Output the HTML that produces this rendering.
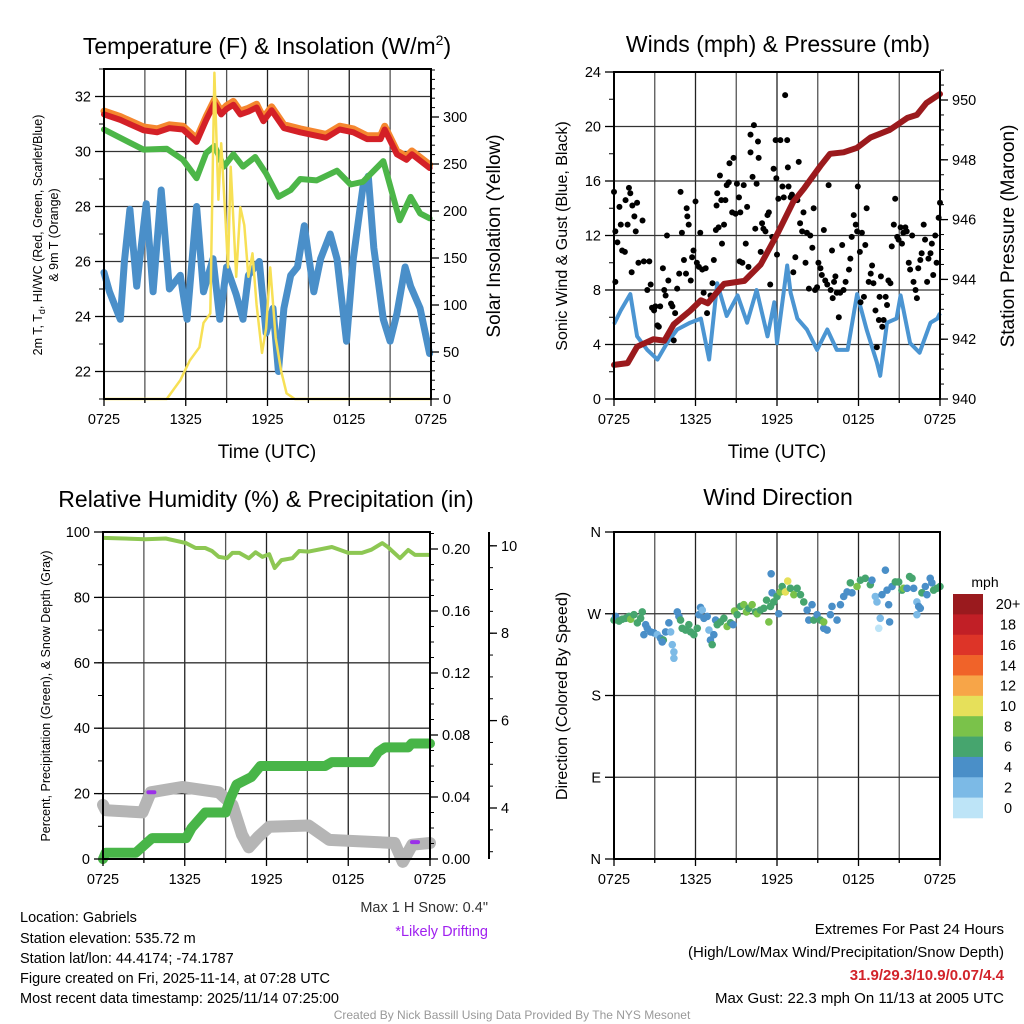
<!DOCTYPE html>
<html><head><meta charset="utf-8"><style>
html,body{margin:0;padding:0;background:#fff;}
svg{display:block;font-family:"Liberation Sans",Arial,sans-serif;}
</style></head><body>
<svg id="c" width="1024" height="1024" viewBox="0 0 1024 1024" xmlns="http://www.w3.org/2000/svg">
<g id="layer"></g>
<g id="texts" fill="#000">
<text x="267" y="54" font-size="23" text-anchor="middle">Temperature (F) &amp; Insolation (W/m<tspan dy="-9" font-size="14">2</tspan><tspan dy="9">)</tspan></text>
<text x="778" y="52" font-size="23" text-anchor="middle">Winds (mph) &amp; Pressure (mb)</text>
<text x="266" y="507" font-size="23" text-anchor="middle">Relative Humidity (%) &amp; Precipitation (in)</text>
<text x="778" y="505" font-size="23" text-anchor="middle">Wind Direction</text>
<text x="267" y="458" font-size="19" text-anchor="middle">Time (UTC)</text>
<text x="777" y="458" font-size="19" text-anchor="middle">Time (UTC)</text>
<g transform="translate(42,235) rotate(-90)" font-size="12.5" text-anchor="middle"><text x="0" y="0">2m T, T<tspan font-size="9" dy="3">d</tspan><tspan dy="-3">, HI/WC (Red, Green, Scarlet/Blue)</tspan></text><text x="0" y="16">&amp; 9m T (Orange)</text></g>
<text transform="translate(500,236) rotate(-90)" font-size="19" text-anchor="middle">Solar Insolation (Yellow)</text>
<text transform="translate(567,236) rotate(-90)" font-size="16" text-anchor="middle">Sonic Wind &amp; Gust (Blue, Black)</text>
<text transform="translate(1014,236) rotate(-90)" font-size="19" text-anchor="middle">Station Pressure (Maroon)</text>
<text transform="translate(50,696) rotate(-90)" font-size="12.5" text-anchor="middle">Percent, Precipitation (Green), &amp; Snow Depth (Gray)</text>
<text transform="translate(567,696) rotate(-90)" font-size="16" text-anchor="middle">Direction (Colored By Speed)</text>
<text x="488" y="912" font-size="14.5" fill="#333" text-anchor="end">Max 1 H Snow: 0.4"</text>
<text x="488" y="936" font-size="14.5" fill="#a020f0" text-anchor="end">*Likely Drifting</text>
<g font-size="14.5">
<text x="20" y="922">Location: Gabriels</text>
<text x="20" y="943">Station elevation: 535.72 m</text>
<text x="20" y="963">Station lat/lon: 44.4174; -74.1787</text>
<text x="20" y="983">Figure created on Fri, 2025-11-14, at 07:28 UTC</text>
<text x="20" y="1003">Most recent data timestamp: 2025/11/14 07:25:00</text>
</g>
<g font-size="15" text-anchor="end">
<text x="1004" y="934">Extremes For Past 24 Hours</text>
<text x="1004" y="957">(High/Low/Max Wind/Precipitation/Snow Depth)</text>
<text x="1004" y="980" fill="#d2232a" font-weight="bold">31.9/29.3/10.9/0.07/4.4</text>
<text x="1004" y="1003">Max Gust: 22.3 mph On 11/13 at 2005 UTC</text>
</g>
<text x="512" y="1019" font-size="12" fill="#999" text-anchor="middle">Created By Nick Bassill Using Data Provided By The NYS Mesonet</text>
<text x="985" y="587" font-size="14" text-anchor="middle">mph</text>
</g>
</svg>
<script>
// ---------- Panel 1 data ----------
const redT=[0,1.2,2.9,3.9,4.8,5.8,6.8,7.5,8.1,8.6,9.0,9.5,10.0,10.6,11.2,11.7,12.3,13.2,14.4,16.3,17.3,18.3,19.3,20.3,20.6,21.5,22.2,22.6,23.9];
const redV=[31.35,31.15,30.77,30.7,30.85,30.8,30.35,31.15,31.75,31.35,31.55,31.7,31.35,31.45,31.6,31.1,31.5,30.85,30.7,30.5,30.8,30.7,30.45,30.45,30.8,29.9,29.7,29.9,29.4];
const grnT=[0,2.9,4.6,5.8,6.8,7.5,8.1,8.8,9.5,10.2,11.1,11.9,12.8,13.7,14.4,15.6,17.1,18.1,19.0,20.5,21.7,22.5,23.2,23.9];
const grnV=[30.8,30.07,30.1,29.7,29.03,29.95,30.2,29.45,29.9,29.45,29.8,29.2,28.35,28.6,29.0,28.95,29.3,28.8,28.9,29.65,27.5,28.35,27.75,27.57];
const bluT=[0,0.4,1.2,1.5,1.9,2.4,3.1,3.6,4.2,4.8,5.6,6.1,6.8,7.3,8.0,8.5,9.0,9.7,10.2,10.6,11.4,11.9,12.4,12.8,13.2,13.7,14.2,14.7,15.4,15.9,16.6,17.1,17.8,18.3,19.0,19.4,19.8,20.5,21.0,21.5,22.1,22.5,23.2,23.9];
const bluV=[25.6,24.9,23.9,26.0,27.9,25.1,28.1,24.9,28.6,25.0,25.5,23.9,28.0,24.9,26.1,23.9,25.8,24.8,23.9,25.5,26.0,23.4,24.3,22.0,24.3,25.5,25.8,27.3,24.9,26.1,27.0,26.1,23.1,26.1,28.7,29.1,26.5,23.9,23.1,24.1,25.8,25.1,24.3,22.65];
const solT=[0,4.6,5.6,6.3,7.0,7.3,7.8,8.1,8.4,8.6,8.9,9.1,9.3,9.7,10.0,10.3,10.6,10.9,11.2,11.6,11.9,12.2,12.6,13.0,13.4,14.0,24];
const solV=[0,0,20,41,55,81,91,347,212,272,195,140,247,130,204,185,130,155,100,49,75,140,65,30,6,0,0];
// ---------- Panel 2 data ----------
const presT=[0,1.0,1.7,2.9,3.7,4.4,5.6,6.4,6.9,8.1,9.6,10.8,12.0,13.2,14.0,15.2,15.9,16.9,17.9,18.9,20.3,21.6,22.3,23.0,24.0];
const presV=[941.14,941.2,941.75,942.0,941.95,942.5,942.95,943.3,943.2,943.85,943.95,944.5,945.5,946.6,947.05,947.8,948.2,948.25,948.4,948.75,949.0,949.4,949.5,949.9,950.2];
const windT=[0,0.5,1.2,1.7,2.45,3.2,3.9,4.65,5.6,6.4,7.0,7.6,8.3,9.1,9.8,10.5,11.3,11.8,12.0,12.75,13.0,13.5,14.2,14.95,15.7,16.4,17.2,17.9,18.6,19.35,19.6,20.1,20.8,21.1,21.8,22.5,23.3,23.8,24.0];
const windV=[5.5,6.5,7.7,4.6,3.6,2.9,4.1,5.1,5.6,5.9,2.9,8.5,6.1,7.6,5.6,8.0,4.6,7.1,4.1,9.8,7.8,5.9,5.1,3.6,5.1,3.6,3.6,7.7,5.1,2.7,1.7,5.6,5.9,7.6,4.1,3.4,5.6,5.9,6.3];
const gustT=[0,0.1,0.1,0.25,0.4,0.5,0.6,0.8,0.85,1.0,1.1,1.2,1.3,1.35,1.5,1.6,1.7,1.8,2.1,2.2,2.45,2.6,2.7,2.8,2.95,3.05,3.2,3.3,3.4,3.6,3.7,3.8,3.9,4.0,4.2,4.3,4.4,4.5,4.65,4.8,4.9,5.0,5.15,5.3,5.35,5.4,5.5,5.65,5.75,5.85,6.0,6.1,6.25,6.35,6.5,6.6,6.75,6.85,7.1,7.25,7.35,7.5,7.55,7.6,7.7,7.8,7.9,7.95,8.1,8.2,8.3,8.45,8.5,8.7,8.8,8.95,9.05,9.2,9.25,9.3,9.45,9.55,9.7,9.8,9.9,10.05,10.05,10.2,10.3,10.4,10.5,10.6,10.65,10.8,10.9,11.0,11.15,11.3,11.4,11.5,11.65,11.75,11.9,11.95,12.0,12.1,12.25,12.4,12.5,12.6,12.75,12.8,12.85,13.0,13.1,13.2,13.35,13.5,13.6,13.7,13.85,13.95,14.1,14.2,14.35,14.45,14.6,14.7,14.8,14.95,15.05,15.2,15.3,15.45,15.55,15.7,15.8,15.95,16.05,16.1,16.2,16.3,16.4,16.55,16.65,16.8,16.9,17.05,17.3,17.4,17.5,17.65,17.8,17.9,17.95,18.1,18.15,18.25,18.4,18.5,18.6,18.75,18.9,19.0,19.1,19.25,19.35,19.5,19.55,19.65,19.75,19.85,20.0,20.1,20.2,20.35,20.45,20.6,20.7,20.85,20.95,21.1,21.2,21.3,21.45,21.55,21.7,21.8,21.95,22.05,22.2,22.3,22.4,22.55,22.65,22.8,22.9,23.05,23.15,23.3,23.4,23.5,23.65,23.75,23.9,24.0];
const gustV=[15.2,12.3,8.6,11.5,14.1,12.8,10.9,10.8,14.6,12.8,15.5,15.1,9.3,14.2,13.4,12.3,14.4,10.0,13.1,10.1,8.0,10.1,8.4,6.7,6.5,6.8,5.4,5.3,6.8,9.6,8.0,7.6,12.0,8.7,7.0,6.8,4.3,6.3,8.1,9.2,15.2,12.2,10.2,9.2,14.0,13.4,12.8,8.7,10.4,10.9,14.5,10.0,9.7,12.2,9.5,7.8,9.6,6.3,7.6,8.5,10.2,12.4,14.2,15.1,12.6,16.4,14.6,11.4,12.8,14.6,15.7,15.9,17.3,13.7,17.7,13.6,15.8,14.8,10.1,13.7,10.0,15.7,11.4,14.1,9.7,19.4,18.1,16.3,20.1,12.5,15.8,18.9,17.7,10.8,12.9,12.5,12.3,13.5,13.7,8.4,11.9,16.9,19.0,16.2,10.6,14.7,19.0,15.6,14.8,22.3,19.0,17.0,15.6,14.8,15.0,9.3,10.4,14.6,17.4,12.9,12.3,13.7,10.0,12.2,8.1,12.0,11.1,14.0,8.0,8.2,10.0,9.6,9.1,12.4,8.7,8.4,15.7,8.0,10.9,7.4,8.6,9.0,7.8,6.0,7.8,11.3,8.0,8.6,9.5,10.3,11.9,13.5,12.8,12.3,15.6,10.8,7.1,12.2,7.5,11.3,14.0,8.6,9.2,9.8,8.5,6.5,3.8,5.8,7.5,9.0,5.3,5.8,7.5,6.9,8.7,8.5,11.2,12.8,14.7,11.9,11.7,12.6,11.4,12.2,12.6,12.3,10.0,9.5,12.0,8.6,8.0,7.4,9.6,10.2,10.7,12.8,11.7,8.6,10.3,10.7,11.4,9.1,12.0,10.0,13.3,14.4];
// ---------- Panel 3 data ----------
const rhT=[0,3.1,4.6,6.1,6.8,7.5,8.0,8.5,9.1,9.5,10.0,10.7,11.2,11.7,12.2,12.6,13.1,13.9,14.4,15.1,16.8,18.0,19.0,19.7,20.5,20.9,21.8,22.4,22.9,24.0];
const rhV=[98.2,97.8,98.0,96.6,95.1,95.1,94.2,92.4,92.0,93.6,93.6,92.0,93.8,92.4,93.2,89.0,91.4,92.0,94.2,94.0,95.4,93.6,93.6,94.6,96.6,95.4,92.0,94.5,93.0,93.0];
const prT=[0,0.2,2.4,3.6,6.1,6.5,7.5,9.0,9.35,9.8,10.9,11.55,16.3,16.8,19.7,20.2,20.7,22.4,22.65,24.0];
const prV=[0.0,0.004,0.004,0.0135,0.0135,0.02,0.03,0.03,0.039,0.048,0.053,0.06,0.06,0.0625,0.0625,0.069,0.072,0.072,0.0745,0.0745];
const snT=[0,0.2,2.9,3.5,5.8,8.5,9.5,10.2,10.7,11.4,12.2,15.1,16.6,21.4,22.0,22.7,24.0];
const snV=[4.07,3.95,3.9,4.36,4.48,4.36,4.07,3.39,3.1,3.34,3.57,3.6,3.27,3.2,2.77,3.16,3.2];
const driftT=[3.55,22.9];
const driftV=[4.36,3.22];
// ---------- Panel 4 data ----------
const wdT=[0,0.12,0.37,0.61,0.86,1.1,1.23,1.47,1.72,2.08,1.96,2.33,2.45,2.2,2.7,2.94,3.19,3.43,3.63,3.55,3.8,4.04,4.17,4.29,4.41,4.41,4.66,4.78,4.9,5.02,5.27,5.51,5.64,5.88,6.13,6.25,6.37,6.5,6.62,6.86,6.99,7.1,7.23,7.35,7.48,7.6,7.84,8.09,8.33,8.58,8.77,8.87,9.07,9.31,9.56,9.75,9.93,10.17,10.42,10.54,10.78,11.03,11.23,11.4,11.52,11.64,11.57,11.76,12.0,12.13,12.25,12.38,12.62,12.79,12.99,13.24,13.48,13.73,13.97,14.22,14.34,14.58,14.71,14.95,15.2,15.44,15.44,15.69,15.93,16.05,16.42,16.67,16.91,17.16,17.4,17.52,17.89,18.14,18.5,18.87,18.99,19.24,19.36,19.49,19.6,19.73,19.98,20.1,20.22,20.29,20.47,20.71,20.96,21.2,21.32,21.57,21.76,21.94,22.06,22.3,22.43,22.3,22.55,22.67,22.92,23.04,23.28,23.4,23.53,23.77,24.0];
const wdDir=[263,267,262,264,265,267,264,269,260,272,265,258,254,247,250,249,247,243,241,239,250,260,250,236,228,221,272,267,263,254,252,258,250,247,254,269,277,274,265,267,252,241,236,247,263,258,261,265,256,260,258,273,269,278,280,272,276,280,272,270,274,276,285,261,278,293,314,283,289,270,294,300,294,306,298,291,298,291,283,274,263,280,263,269,263,254,261,252,269,278,263,280,289,294,304,293,300,307,309,302,307,289,283,254,265,291,318,296,280,261,300,305,305,296,298,298,311,309,298,283,278,269,276,293,300,291,309,304,296,298,300];
const wdSpd=[6,4,6,6,6,6,8,6,6,6,6,4,4,4,4,4,2,4,6,4,4,4,2,2,2,2,4,4,6,6,6,6,6,6,6,4,4,2,4,4,2,4,6,4,4,6,6,6,8,6,4,8,6,6,8,8,6,8,6,8,6,6,6,8,6,4,4,6,6,4,8,6,10,10,6,8,6,6,6,4,4,4,6,4,6,4,8,4,4,4,4,4,4,4,6,4,8,6,6,6,4,2,2,0,2,4,4,4,4,4,4,6,6,6,8,4,6,6,4,2,4,2,4,6,4,4,4,4,6,6,6];
// colorbar
const cbLabels=["20+","18","16","14","12","10","8","6","4","2","0"];
const cbColors=["#9a1a1e","#c11f26","#dd3428","#f06329","#f7a548","#e6e05a","#7ac24a","#46a56e","#4a8fc8","#7cbae6","#bde4f7"];

const NS="http://www.w3.org/2000/svg";
const L=document.getElementById('layer');
function mk(tag,attrs,parent){const e=document.createElementNS(NS,tag);for(const k in attrs)e.setAttribute(k,attrs[k]);(parent||L).appendChild(e);return e;}
function path(xs,ys){return xs.map((x,i)=>(i?'L':'M')+x.toFixed(1)+' '+ys[i].toFixed(1)).join(' ');}
function txt(x,y,s,size,anchor,parent){const t=mk('text',{x:x,y:y,'font-size':size,'text-anchor':anchor||'middle'},parent);t.textContent=s;return t;}
const xLabels=["0725","1325","1925","0125","0725"];

function frame(name,x0,x1,y0,y1,hLines){
  const g=mk('g',{});
  
  
  for(let k=0;k<=8;k++){const x=x0+(x1-x0)*k/8;mk('line',{x1:x,y1:y0,x2:x,y2:y1,stroke:k%2?'#555':'#222','stroke-width':1.3},g);}
  hLines.forEach(y=>mk('line',{x1:x0,y1:y,x2:x1,y2:y,stroke:'#333','stroke-width':1.3},g));
  return g;
}
function border(x0,x1,y0,y1){
  const g=mk('g',{});
  
  
  mk('rect',{x:x0,y:y0,width:x1-x0,height:y1-y0,fill:'none',stroke:'#000','stroke-width':2},g);
  for(let k=0;k<=8;k++){const x=x0+(x1-x0)*k/8;mk('line',{x1:x,y1:y1,x2:x,y2:y1+(k%2?4:7),stroke:'#000','stroke-width':1.3},g);}
  xLabels.forEach((s,k)=>{const t=txt(x0+(x1-x0)*k/4,y1+25,s,14.5,'middle',g);
    
    });
}
function yAxis(name,xAxis,side,vals,fy,labels,minor,lsize){
  const g=mk('g',{});
  
  
  const d=side;
  vals.forEach((v,i)=>{const y=fy(v);mk('line',{x1:xAxis,y1:y,x2:xAxis+d*8,y2:y,stroke:'#000','stroke-width':1.3},g);
    if(labels[i]!==null){txt(xAxis+d*12,y+5,labels[i],lsize||14.5,d<0?'end':'start',g);}});
  (minor||[]).forEach(v=>{const y=fy(v);mk('line',{x1:xAxis,y1:y,x2:xAxis+d*4,y2:y,stroke:'#000','stroke-width':1},g);});
}
function range(a,b,s){const r=[];for(let v=a;v<=b+1e-9;v+=s)r.push(+v.toFixed(4));return r;}

// ===== Panel 1 =====
{
const x0=104,x1=431,y0=69,y1=399;
const X=h=>x0+h*(x1-x0)/24, YT=t=>y1-(t-21)*(y1-y0)/12, YS=s=>y1-s*0.94;
frame('temperature-grid',x0,x1,y0,y1,range(22,32,2).map(YT));
let p;
p=mk('path',{d:path(bluT.map(X),bluV.map(YT)),fill:'none',stroke:'#4a8fc9','stroke-width':7,'stroke-linejoin':'round','stroke-linecap':'round'});


p=mk('path',{d:path(grnT.map(X),grnV.map(YT)),fill:'none',stroke:'#4cb648','stroke-width':6,'stroke-linejoin':'round','stroke-linecap':'round'});


p=mk('path',{d:path(redT.map(X),redV.map(v=>YT(v+0.12))),fill:'none',stroke:'#f5872f','stroke-width':7,'stroke-linejoin':'round','stroke-linecap':'round'});


p=mk('path',{d:path(redT.map(X),redV.map(YT)),fill:'none',stroke:'#d42027','stroke-width':6,'stroke-linejoin':'round','stroke-linecap':'round'});


p=mk('path',{d:path(solT.map(X),solV.map(YS)),fill:'none',stroke:'#f7e055','stroke-width':2.5,'stroke-linejoin':'round'});


border(x0,x1,y0,y1);
yAxis('temperature-y-axis',x0-1,-1,range(22,32,2),YT,range(22,32,2).map(String),range(21,33,1));
yAxis('solar-y-axis',x1,1,range(0,300,50),YS,range(0,300,50).map(String),range(0,350,10));
}
// ===== Panel 2 =====
{
const x0=614,x1=940,y0=72,y1=399;
const X=h=>x0+h*(x1-x0)/24, YW=m=>y1-m*(y1-y0)/24, YP=p=>y1-(p-940)*29.9;
frame('winds-grid',x0,x1,y0,y1,range(4,20,4).map(YW));
let p=mk('path',{d:path(windT.map(X),windV.map(YW)),fill:'none',stroke:'#4b95d2','stroke-width':4,'stroke-linejoin':'round'});


const gg=mk('g',{});


gustT.forEach((h,i)=>{mk('circle',{cx:X(h),cy:YW(gustV[i]),r:3,fill:'#000'},gg);});
p=mk('path',{d:path(presT.map(X),presV.map(YP)),fill:'none',stroke:'#9b1a1d','stroke-width':6,'stroke-linejoin':'round','stroke-linecap':'round'});


border(x0,x1,y0,y1);
yAxis('wind-y-axis',x0-1,-1,range(0,24,4),YW,range(0,24,4).map(String),range(0,24,2));
yAxis('pressure-y-axis',x1,1,range(940,950,2),YP,range(940,950,2).map(String),range(940,951,0.5));
}
// ===== Panel 3 =====
{
const x0=103,x1=430,y0=532,y1=859;
const X=h=>x0+h*(x1-x0)/24, YR=r=>y1-r*3.27, YPr=p=>y1-p*1550, YSn=s=>808-(s-4)*43.7;
frame('humidity-grid',x0,x1,y0,y1,range(20,80,20).map(YR));
let p=mk('path',{d:path(snT.map(X),snV.map(YSn)),fill:'none',stroke:'#b5b5b5','stroke-width':12,'stroke-linejoin':'round','stroke-linecap':'round'});


driftT.forEach((h,i)=>{const e=mk('line',{x1:X(h)-3,y1:YSn(driftV[i]),x2:X(h)+3,y2:YSn(driftV[i]),stroke:'#9b30e8','stroke-width':4,'stroke-linecap':'round'});

});
p=mk('path',{d:path(prT.map(X),prV.map(YPr)),fill:'none',stroke:'#48b548','stroke-width':10,'stroke-linejoin':'round','stroke-linecap':'round'});


p=mk('path',{d:path(rhT.map(X),rhV.map(YR)),fill:'none',stroke:'#8dc753','stroke-width':4,'stroke-linejoin':'round'});


border(x0,x1,y0,y1);
yAxis('humidity-y-axis',x0-1,-1,range(0,100,20),YR,range(0,100,20).map(String),range(0,100,10));
yAxis('precip-y-axis',x1,1,range(0,0.2,0.04),YPr,range(0,0.2,0.04).map(v=>v.toFixed(2)),range(0,0.21,0.01));
const sg=mk('line',{x1:489,y1:532,x2:489,y2:y1,stroke:'#000','stroke-width':2});


yAxis('snow-y-axis',489,1,range(4,10,2),YSn,range(4,10,2).map(String),range(2.5,10.5,0.5).filter(v=>YSn(v)<=y1&&YSn(v)>=532));
}
// ===== Panel 4 =====
{
const x0=614,x1=940,y0=532,y1=859;
const X=h=>x0+h*(x1-x0)/24, YD=d=>y1-d*(y1-y0)/360;
const dirLabels=["N","E","S","W","N"];
frame('direction-grid',x0,x1,y0,y1,[90,180,270].map(YD));
const sc=s=>cbColors[10-Math.min(10,Math.round(s/2))];
const g=mk('g',{});


wdT.forEach((h,i)=>{mk('circle',{cx:X(h),cy:YD(wdDir[i]),r:3.8,fill:sc(wdSpd[i])},g);});
border(x0,x1,y0,y1);
yAxis('direction-y-axis',x0-1,-1,[0,90,180,270,360],YD,dirLabels,[]);
const cb=mk('g',{});


const h=(818-594)/cbColors.length;
cbColors.forEach((c,i)=>{mk('rect',{x:953,y:594+i*h,width:30,height:h+0.3,fill:c},cb);
  txt(1008,594+i*h+h/2+5,cbLabels[i],14.5,'middle',cb);});
}
</script>
</body></html>
